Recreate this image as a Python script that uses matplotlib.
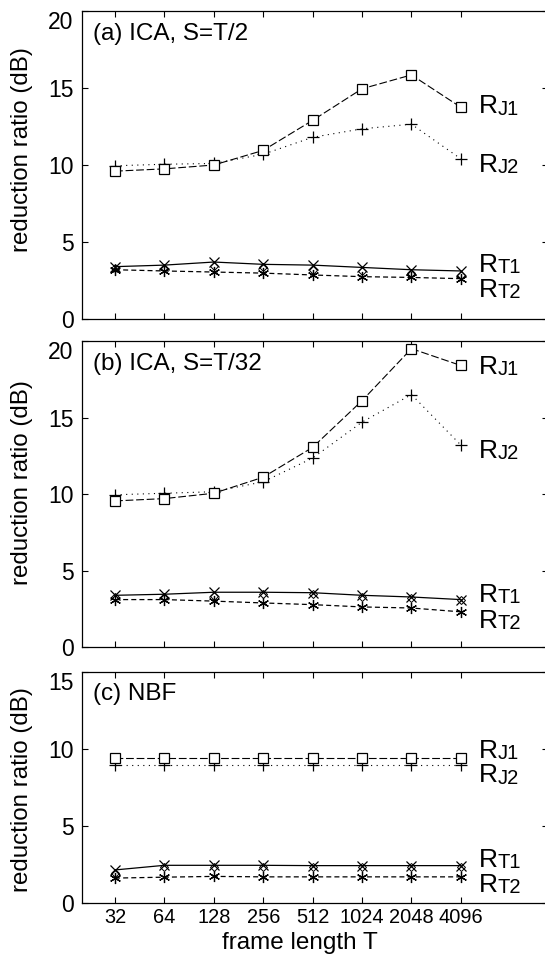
import numpy as np
import matplotlib
matplotlib.use("Agg")
import matplotlib.pyplot as plt

plt.rcParams['font.family'] = ['Liberation Sans', 'DejaVu Sans']

# --- Data ---
frame_lengths = ["32", "64", "128", "256", "512", "1024", "2048", "4096"]

# (a) ICA, S=T/2
a_rj1 = [9.6, 9.75, 10.0, 10.95, 12.9, 14.95, 15.85, 13.75]
a_rj2 = [9.95, 10.05, 10.1, 10.7, 11.8, 12.35, 12.65, 10.4]
a_rt1 = [3.4, 3.5, 3.7, 3.55, 3.5, 3.35, 3.2, 3.12]
a_rt2 = [3.2, 3.12, 3.05, 2.98, 2.86, 2.75, 2.7, 2.62]
a_dia = [3.3, 3.3, 3.42, 3.38, 3.18, 3.12, 2.98, 2.88]

# (b) ICA, S=T/32
b_rj1 = [9.55, 9.7, 10.05, 11.1, 13.05, 16.1, 19.5, 18.4]
b_rj2 = [9.95, 10.05, 10.15, 10.8, 12.35, 14.7, 16.5, 13.2]
b_rt1 = [3.38, 3.45, 3.58, 3.58, 3.55, 3.38, 3.27, 3.1]
b_rt2 = [3.1, 3.1, 3.0, 2.88, 2.77, 2.62, 2.55, 2.3]
b_dia = [3.25, 3.3, 3.35, 3.45, 3.45, 3.3, 3.2, 3.05]

# (c) NBF
c_rj1 = [9.4, 9.4, 9.4, 9.4, 9.4, 9.4, 9.4, 9.4]
c_rj2 = [8.95, 8.95, 8.95, 8.95, 8.95, 8.95, 8.95, 8.95]
c_rt1 = [2.15, 2.45, 2.45, 2.45, 2.43, 2.43, 2.43, 2.43]
c_rt2 = [1.62, 1.68, 1.73, 1.7, 1.7, 1.7, 1.7, 1.7]
c_dia = [1.92, 2.35, 2.35, 2.35, 2.35, 2.35, 2.35, 2.35]

panel_titles = ["(a) ICA, S=T/2", "(b) ICA, S=T/32", "(c) NBF"]
panel_ymax = [20, 20, 15]
panel_yticks = [[0, 5, 10, 15, 20], [0, 5, 10, 15, 20], [0, 5, 10, 15]]
# label y-positions for the R_xx annotations in each panel
label_pos = [
    {"J1": 13.8, "J2": 10.0, "T1": 3.5, "T2": 1.9},
    {"J1": 18.3, "J2": 12.8, "T1": 3.4, "T2": 1.7},
    {"J1": 9.9, "J2": 8.3, "T1": 2.8, "T2": 1.2},
]
ylabel_y = [0.549, 0.539, 0.49]
panels = [
    (a_rj1, a_rj2, a_rt1, a_rt2, a_dia),
    (b_rj1, b_rj2, b_rt1, b_rt2, b_dia),
    (c_rj1, c_rj2, c_rt1, c_rt2, c_dia),
]

# axes rectangles [left, bottom, width, height] in figure fractions
rects = [
    [0.150, 0.6663, 0.856, 0.3222],
    [0.150, 0.3232, 0.856, 0.3201],
    [0.150, 0.0554, 0.856, 0.2416],
]

fig = plt.figure(figsize=(5.45, 9.56), dpi=100)
x = np.arange(len(frame_lengths))
asterisk = (6, 2, 0)

for i, (rj1, rj2, rt1, rt2, dia) in enumerate(panels):
    ax = fig.add_axes(rects[i])
    ax.plot(x, rj1, color='black', lw=0.8, dashes=(7, 2.5), marker='s', ms=7,
            mfc='white', mec='black', mew=0.9, zorder=4)
    ax.plot(x, rj2, color='black', lw=0.8, dashes=(1, 4), marker='+', ms=8,
            mew=0.9, zorder=3)
    ax.plot(x, dia, ls='none', marker='D', ms=4.5, mfc='none', mec='black',
            mew=0.7, zorder=2)
    ax.plot(x, rt1, color='black', lw=0.9, ls='-', marker='x', ms=7, mew=0.9, zorder=3)
    ax.plot(x, rt2, color='black', lw=0.9, dashes=(4, 2.5), marker=asterisk, ms=8,
            mew=0.9, zorder=3)

    ax.set_xlim(-0.674, 8.77)
    ax.set_ylim(0, panel_ymax[i])
    ticks = panel_yticks[i]
    ax.set_yticks(ticks)
    # top tick label sits just below the top edge, as in the original
    ax.set_yticklabels([str(t) for t in ticks[:-1]] + [""])
    ax.annotate(str(ticks[-1]), xy=(0, 1), xycoords='axes fraction',
                xytext=(-6, 0), textcoords='offset points', fontsize=16.5,
                ha='right', va='top')
    ax.set_xticks(x)
    ax.tick_params(direction='in', top=True, right=True, length=4, width=0.8)
    ax.tick_params(axis='y', labelsize=16.5, pad=6)
    if i == 2:
        ax.set_xticklabels(frame_lengths, fontsize=14.4)
        ax.set_xlabel("frame length T", fontsize=17.5)
        ax.xaxis.set_label_coords(0.468, -0.125)
    else:
        ax.set_xticklabels([])
    for s in ax.spines.values():
        s.set_linewidth(0.9)
    ax.set_ylabel("reduction ratio (dB)", fontsize=17.4)
    ax.yaxis.set_label_coords(-0.105, ylabel_y[i])

    ax.text(0.025, 0.925 if i < 2 else 0.905, panel_titles[i], transform=ax.transAxes,
            fontsize=17.5, va='center', ha='left')

    for key, yv in label_pos[i].items():
        ax.annotate("R", xy=(7.37, yv), xycoords='data', fontsize=19,
                    va='center', ha='left')
        ax.annotate(key, xy=(7.37, yv), xycoords='data', xytext=(13.5, -2.0),
                    textcoords='offset points', fontsize=14.5, va='center', ha='left')

fig.savefig("out.png", dpi=100)
